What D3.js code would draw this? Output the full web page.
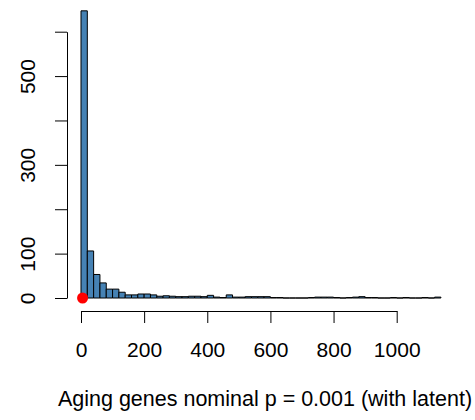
<!DOCTYPE html>
<html>
<head>
<meta charset="utf-8">
<script src="https://cdn.jsdelivr.net/npm/d3@7"></script>
<style>
  html, body { margin: 0; padding: 0; background: #fff; }
  svg { display: block; }
  text { font-family: "Liberation Sans", Arial, Helvetica, sans-serif; fill: #000; }
</style>
</head>
<body>
<svg id="chart" width="475" height="420"></svg>
<script>
// Histogram bin edges (width 20) and counts
const binStart = d3.range(0, 1140, 20);
const binWidth = 20;
const counts = [
  647, 106, 53, 34, 20, 20, 13, 7, 7, 9,
  9, 7, 4, 5, 4, 3, 3, 4, 4, 3,
  6, 2, 1, 7, 2, 2, 3, 3, 3, 3,
  1, 1, 0, 0, 0, 0, 1, 2, 2, 2,
  1, 0, 1, 2, 3, 1, 1, 0, 0, 1,
  0, 1, 0, 0, 1, 0, 2
];
const xTicks = [0, 200, 400, 600, 800, 1000];
const yTicks = [0, 100, 200, 300, 400, 500, 600];
const yLabelled = [0, 100, 300, 500];
const observed = 5;
const xLabel = "Aging genes nominal p = 0.001 (with latent)";

const svg = d3.select("#chart");
const x = d3.scaleLinear().domain([0, 1000]).range([81, 396.7]);
const y = d3.scaleLinear().domain([0, 600]).range([298, 31.7]);

// bars, outlined as closed paths so empty bins still show as a baseline stroke
const bins = binStart.map((s, i) => ({ s, c: counts[i] }));
svg.append("g")
  .selectAll("path")
  .data(bins)
  .join("path")
  .attr("d", d => {
    const x0 = x(d.s), x1 = x(d.s + binWidth), y0 = y(0), y1 = y(d.c);
    return `M${x0},${y0}L${x0},${y1}L${x1},${y1}L${x1},${y0}Z`;
  })
  .attr("fill", "steelblue")
  .attr("stroke", "#000")
  .attr("stroke-width", 1);

// x axis
const xAxis = svg.append("g")
  .attr("transform", "translate(0,311)")
  .call(d3.axisBottom(x).tickValues(xTicks).tickFormat(d3.format("d"))
    .tickSize(12).tickSizeOuter(0).tickPadding(19));
xAxis.select(".domain").attr("stroke", "#000").attr("stroke-width", 1);
xAxis.selectAll(".tick line").attr("stroke", "#000");
xAxis.selectAll("text").attr("font-size", 21).attr("font-family", null);

// y axis
const yAxis = svg.append("g")
  .attr("transform", "translate(67,0)")
  .call(d3.axisLeft(y).tickValues(yTicks).tickSize(12).tickSizeOuter(0)
    .tickFormat(d => yLabelled.includes(d) ? d : ""));
yAxis.select(".domain").attr("stroke", "#000").attr("stroke-width", 1);
yAxis.selectAll(".tick line").attr("stroke", "#000");
yAxis.selectAll("text")
  .attr("font-size", 21)
  .attr("font-family", null)
  .attr("x", null).attr("dy", null)
  .attr("text-anchor", "middle")
  .attr("transform", "translate(-32,0) rotate(-90)");

// observed value
svg.append("circle")
  .attr("cx", x(observed))
  .attr("cy", y(0))
  .attr("r", 5.5)
  .attr("fill", "red");

// axis title
svg.append("text")
  .attr("x", 265)
  .attr("y", 406)
  .attr("text-anchor", "middle")
  .attr("font-size", 21.5)
  .text(xLabel);
</script>
</body>
</html>
